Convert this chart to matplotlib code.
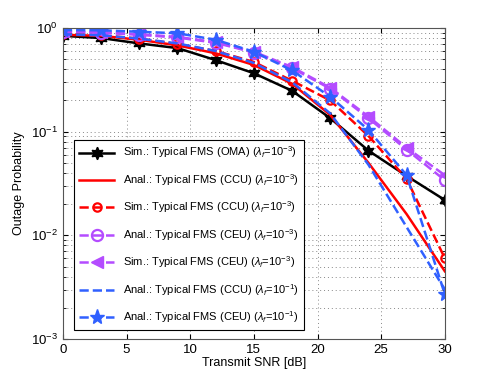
import numpy as np
import matplotlib
matplotlib.use("Agg")
import matplotlib.pyplot as plt

plt.rcParams["font.family"] = ["Liberation Sans", "DejaVu Sans"]
plt.rcParams["mathtext.fontset"] = "custom"
plt.rcParams["mathtext.rm"] = "Liberation Sans"
plt.rcParams["mathtext.it"] = "Liberation Sans:italic"

snr = [0, 3, 6, 9, 12, 15, 18, 21, 24, 27, 30]

sim_oma = [0.84, 0.80, 0.71, 0.64, 0.49, 0.366, 0.248, 0.135, 0.0656, 0.0374, 0.0219]
anal_ccu_3 = [0.86, 0.84, 0.77, 0.68, 0.57, 0.44, 0.29, 0.145, 0.05, 0.016, 0.0045]
sim_ccu_3 = [0.88, 0.85, 0.79, 0.70, 0.60, 0.47, 0.31, 0.20, 0.091, 0.035, 0.006]
anal_ceu_3 = [0.92, 0.90, 0.86, 0.81, 0.72, 0.58, 0.41, 0.26, 0.135, 0.067, 0.034]
sim_ceu_3 = [0.93, 0.91, 0.87, 0.82, 0.73, 0.59, 0.42, 0.265, 0.14, 0.07, 0.038]
anal_ccu_1 = [0.87, 0.85, 0.79, 0.71, 0.60, 0.46, 0.30, 0.15, 0.048, 0.012, 0.003]
anal_ceu_1 = [0.956, 0.95, 0.92, 0.89, 0.77, 0.59, 0.39, 0.217, 0.104, 0.038, 0.0027]

labels = [
    r"Sim.: Typical FMS (OMA) ($\lambda_f$=10$^{-3}$)",
    r"Anal.: Typical FMS (CCU) ($\lambda_f$=10$^{-3}$)",
    r"Sim.: Typical FMS (CCU) ($\lambda_f$=10$^{-3}$)",
    r"Anal.: Typical FMS (CEU) ($\lambda_f$=10$^{-3}$)",
    r"Sim.: Typical FMS (CEU) ($\lambda_f$=10$^{-3}$)",
    r"Anal.: Typical FMS (CCU) ($\lambda_f$=10$^{-1}$)",
    r"Anal.: Typical FMS (CEU) ($\lambda_f$=10$^{-1}$)",
]

red = "#ff0000"
purple = "#b44cff"
blue = "#3060ff"

fig = plt.figure(figsize=(4.91, 3.82), dpi=100)
ax = fig.add_axes([0.128, 0.1126, 0.778, 0.8141])

lw = 1.8
ax.plot(snr, sim_oma, "-", color="black", lw=lw, marker=(6, 1, 0), ms=9, label=labels[0])
ax.plot(snr, anal_ccu_3, "-", color=red, lw=lw, label=labels[1])
ax.plot(snr, sim_ccu_3, "--", color=red, lw=lw, marker="o", ms=6, mfc="none", mew=1.6, label=labels[2])
ax.plot(snr, anal_ceu_3, "--", color=purple, lw=lw, marker="o", ms=8, mfc="none", mew=1.6, label=labels[3])
ax.plot(snr, sim_ceu_3, "--", color=purple, lw=lw, marker="<", ms=8, label=labels[4])
ax.plot(snr, anal_ccu_1, "--", color=blue, lw=lw, label=labels[5])
ax.plot(snr, anal_ceu_1, "--", color=blue, lw=lw, marker="*", ms=11, label=labels[6])

ax.set_yscale("log")
ax.set_xlim(0, 30)
ax.set_ylim(1e-3, 1)
ax.set_xticks([0, 5, 10, 15, 20, 25, 30])
ax.grid(True, which="major", linestyle=(0, (1, 3)), color="#888888", lw=0.7)
ax.grid(True, which="minor", axis="y", linestyle=(0, (1, 3)), color="#888888", lw=0.7)
ax.tick_params(which="both", direction="in", top=True, right=True, labelsize=9.5)
for s in ax.spines.values():
    s.set_color("#555555")

ax.set_xlabel("Transmit SNR [dB]", fontsize=9, labelpad=1)
ax.set_ylabel("Outage Probability", fontsize=9)

leg = ax.legend(loc="lower left", bbox_to_anchor=(0.03, 0.03), fontsize=8,
                handlelength=3.2, labelspacing=1.05, fancybox=False,
                framealpha=1, edgecolor="black", borderaxespad=0)
leg.get_frame().set_linewidth(0.8)

fig.savefig("out.png", dpi=100)
